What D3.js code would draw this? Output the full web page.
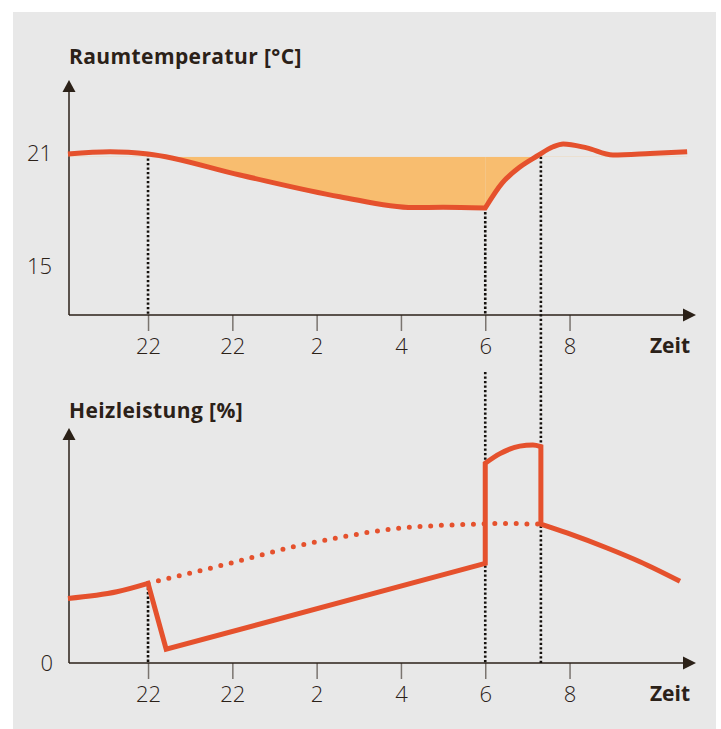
<!DOCTYPE html>
<html>
<head>
<meta charset="utf-8">
<script src="https://cdn.jsdelivr.net/npm/d3@7"></script>
<style>
  body { margin: 0; background: #fff; }
  svg { display: block; }
  text { font-family: "Open Sans", "Noto Sans", sans-serif; fill: #2b2118; }
</style>
</head>
<body>
<svg id="chart"></svg>
<script>
// time in hours after 20:00, ticks every 2h
const tickHours = [2, 4, 6, 8, 10, 12];
const tickLabels = ["22", "22", "2", "4", "6", "8"];

// room temperature [°C], split at the 6 o'clock kink
const tempNight = [
  [0.1, 20.95], [1.1, 21.07], [2.0, 20.95], [4.18, 19.83], [6.55, 18.68],
  [8.29, 18.1], [9.0, 18.12], [10.0, 18.08]
];
const tempMorning = [
  [10.0, 18.08], [10.4, 19.4], [10.83, 20.27], [11.23, 20.84], [11.61, 21.33],
  [11.85, 21.48], [12.41, 21.27], [13.03, 20.89], [13.91, 20.97], [14.79, 21.07]
];
const tempSetpoint = 20.8;
const tempTicks = [15, 21];

// heating power [%]
const heatBefore = [[0.1, 29.1], [1.26, 32.1], [2.0, 35.9]];
const heatSetback = [[2.0, 35.9], [2.43, 6.2], [10.0, 44.9]];
const heatBoost = [[10.0, 44.9], [10.0, 90.0], [10.35, 94.3], [10.82, 97.7], [11.13, 98.2], [11.32, 97.5], [11.32, 62.6]];
const heatAfter = [[11.32, 62.6], [11.94, 58.6], [12.89, 51.8], [13.67, 45.6], [14.62, 36.8]];
const heatNoSetback = [
  [2.0, 35.9], [3.94, 44.9], [5.44, 52.3], [6.48, 56.3], [7.98, 60.8],
  [8.76, 61.8], [9.81, 62.6], [10.59, 62.9], [11.13, 62.6], [11.32, 62.6]
];

// switching moments (dotted markers)
const markerHours = [2.0, 10.0, 11.32];

const W = 721, H = 729;
const red = "#e5512d", orange = "#f8bd6f", ink = "#2b2118", tickGrey = "#7a746f";

const svg = d3.select("#chart").attr("width", W).attr("height", H);
svg.append("rect").attr("x", 13).attr("y", 12).attr("width", 703).attr("height", H - 12).attr("fill", "#e8e8e8");

const x = d3.scaleLinear().domain([0.125, 15]).range([69, 696]);
const yT = d3.scaleLinear().domain([15, 21]).range([266, 153]);
const yH = d3.scaleLinear().domain([0, 100]).range([663, 441]);

const tBottom = 315, hBottom = 663;
const tTop = 80, hTop = 428;

svg.append("defs").append("clipPath").attr("id", "below-setpoint")
  .append("rect").attr("x", 0).attr("y", yT(tempSetpoint)).attr("width", W).attr("height", tBottom - yT(tempSetpoint));

function join(paths) {
  return paths.map((p, i) => i === 0 ? p : p.replace(/^M/, "L")).join("");
}

function drawAxes(yBase, yTip, title, titleY) {
  const g = svg.append("g");
  const x0 = x.range()[0];
  g.append("line").attr("x1", x0).attr("x2", x0)
    .attr("y1", yBase).attr("y2", yTip + 10).attr("stroke", ink).attr("stroke-width", 1.5);
  g.append("path").attr("d", `M${x0 - 6.5},${yTip + 12}L${x0},${yTip}L${x0 + 6.5},${yTip + 12}Z`).attr("fill", ink);

  const ax = d3.axisBottom(x).tickValues(tickHours)
    .tickFormat((d, i) => tickLabels[i]).tickSize(16).tickPadding(7);
  const axg = g.append("g").attr("transform", `translate(0,${yBase})`).call(ax);
  axg.select(".domain").remove();
  axg.selectAll(".tick line").attr("stroke", tickGrey).attr("stroke-width", 1.5);
  axg.selectAll(".tick text").attr("font-size", 22).attr("fill", "#3b3028")
    .style("font-family", '"Open Sans", sans-serif').style("font-weight", 300);

  g.append("line").attr("x1", x0).attr("x2", 684)
    .attr("y1", yBase).attr("y2", yBase).attr("stroke", ink).attr("stroke-width", 1.5);
  g.append("path").attr("d", `M683,${yBase - 6.5}L696,${yBase}L683,${yBase + 6.5}Z`).attr("fill", ink);
  g.append("text").attr("x", 690).attr("y", yBase + 38).attr("text-anchor", "end")
    .attr("font-size", 21).attr("font-weight", "bold").text("Zeit");
  g.append("text").attr("x", 69).attr("y", titleY)
    .attr("font-size", 21).attr("font-weight", "bold").attr("letter-spacing", 0.4).text(title);
}

drawAxes(tBottom, tTop, "Raumtemperatur [°C]", 64);
drawAxes(hBottom, hTop, "Heizleistung [%]", 418);

// y tick labels
svg.selectAll(".tlab").data(tempTicks).join("text").attr("class", "tlab")
  .attr("x", 52).attr("y", d => yT(d)).attr("dy", "0.36em").attr("text-anchor", "end")
  .attr("font-size", 22).attr("font-weight", 300).attr("fill", "#3b3028").text(d => d);
svg.append("text").attr("x", 53).attr("y", yH(0)).attr("dy", "0.36em").attr("text-anchor", "end")
  .attr("font-size", 22).attr("font-weight", 300).attr("fill", "#3b3028").text("0");

// temperature shortfall below setpoint
const area = d3.area().x(d => x(d[0])).y0(yT(tempSetpoint)).y1(d => yT(d[1])).curve(d3.curveMonotoneX);
[tempNight, tempMorning].forEach(seg => {
  svg.append("path").attr("d", area(seg))
    .attr("clip-path", "url(#below-setpoint)").attr("fill", orange);
});

// dotted markers
const markerSpans = [
  [[yT(20.95), tBottom], [yH(36), hBottom]],
  [[yT(18.1), tBottom], [372, hBottom]],
  [[yT(20.8), hBottom]]
];
markerHours.forEach((h, i) => {
  markerSpans[i].forEach(s => {
    svg.append("line").attr("x1", x(h)).attr("x2", x(h)).attr("y1", s[0]).attr("y2", s[1])
      .attr("stroke", "#14100c").attr("stroke-width", 2.6).attr("stroke-dasharray", "2.3,2.2");
  });
});

// temperature line
const lineT = d3.line().x(d => x(d[0])).y(d => yT(d[1])).curve(d3.curveMonotoneX);
svg.append("path").attr("d", join([lineT(tempNight), lineT(tempMorning)]))
  .attr("fill", "none").attr("stroke", red).attr("stroke-width", 5);

// heating lines
const lineH = d3.line().x(d => x(d[0])).y(d => yH(d[1]));
const lineHc = d3.line().x(d => x(d[0])).y(d => yH(d[1])).curve(d3.curveMonotoneX);
svg.append("path").attr("d", lineHc(heatNoSetback))
  .attr("fill", "none").attr("stroke", red).attr("stroke-width", 5)
  .attr("stroke-linecap", "round").attr("stroke-dasharray", "0,10.7");
svg.append("path")
  .attr("d", join([lineHc(heatBefore), lineH(heatSetback), lineH(heatBoost.slice(0, 2)),
    lineHc(heatBoost.slice(1, 6)), lineH(heatBoost.slice(5)), lineHc(heatAfter)]))
  .attr("fill", "none").attr("stroke", red).attr("stroke-width", 5);
</script>
</body>
</html>
